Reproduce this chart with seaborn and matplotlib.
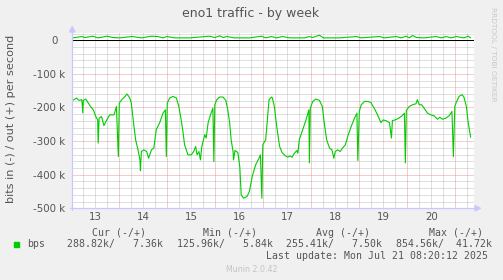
import matplotlib
matplotlib.use("Agg")
import matplotlib.pyplot as plt
from matplotlib.patches import Rectangle, Polygon
from matplotlib.lines import Line2D
import seaborn as sns
import pandas as pd
import numpy as np

# ---------------- data ----------------
in_t = [13.03, 13.11, 13.16, 13.22, 13.24, 13.25, 13.30, 13.35, 13.40, 13.46, 13.51, 13.55, 13.56, 13.58,
        13.63, 13.68, 13.74, 13.80, 13.89, 13.94, 13.98, 14.00, 14.05, 14.12, 14.16, 14.22, 14.25, 14.29,
        14.34, 14.39, 14.43, 14.44, 14.46, 14.51, 14.57, 14.61, 14.67, 14.72, 14.77, 14.84, 14.91, 14.96,
        14.98, 15.00, 15.05, 15.12, 15.19, 15.24, 15.29, 15.33, 15.36, 15.43, 15.50, 15.55, 15.59, 15.62,
        15.66, 15.69, 15.72, 15.78, 15.81, 15.85, 15.90, 15.95, 15.97, 15.99, 16.03, 16.09, 16.16, 16.22,
        16.26, 16.30, 16.33, 16.37, 16.38, 16.41, 16.47, 16.51, 16.54, 16.59, 16.66, 16.71, 16.77, 16.84,
        16.91, 16.94, 16.97, 16.99, 17.05, 17.08, 17.12, 17.17, 17.19, 17.23, 17.28, 17.34, 17.39, 17.46,
        17.51, 17.56, 17.60, 17.65, 17.70, 17.72, 17.75, 17.82, 17.89, 17.95, 17.96, 17.98, 18.03, 18.10,
        18.17, 18.23, 18.27, 18.32, 18.38, 18.43, 18.47, 18.50, 18.55, 18.60, 18.65, 18.71, 18.76, 18.83,
        18.90, 18.95, 18.97, 19.00, 19.04, 19.11, 19.17, 19.24, 19.31, 19.38, 19.45, 19.50, 19.57, 19.63,
        19.67, 19.69, 19.75, 19.82, 19.89, 19.94, 19.96, 19.98, 20.04, 20.11, 20.18, 20.21, 20.25, 20.30,
        20.35, 20.42, 20.49, 20.56, 20.63, 20.68, 20.73, 20.80, 20.87, 20.93, 20.96, 20.99, 21.02, 21.08,
        21.14, 21.18, 21.23, 21.27, 21.32]
in_v = [-179, -172, -179, -177, -216, -179, -175, -186, -197, -207, -227, -237, -306, -232,
        -227, -254, -237, -222, -222, -197, -346, -187, -177, -167, -160, -172, -187, -237,
        -296, -326, -356, -388, -331, -326, -331, -351, -326, -321, -266, -246, -217, -207,
        -346, -187, -172, -167, -172, -197, -237, -276, -311, -341, -341, -331, -316, -341,
        -331, -356, -316, -281, -291, -246, -222, -202, -361, -192, -177, -169, -169, -179,
        -207, -246, -296, -331, -356, -328, -334, -376, -460, -470, -465, -450, -405, -371,
        -351, -341, -470, -311, -296, -246, -177, -169, -172, -197, -257, -316, -334, -344,
        -348, -344, -348, -336, -328, -336, -296, -266, -237, -207, -365, -202, -182, -175,
        -179, -197, -246, -296, -321, -326, -351, -331, -326, -331, -321, -311, -286, -257,
        -232, -217, -358, -212, -192, -182, -182, -185, -202, -222, -245, -237, -240, -246,
        -291, -239, -237, -232, -225, -217, -365, -209, -197, -192, -189, -177, -192, -192,
        -202, -217, -222, -225, -235, -229, -235, -232, -225, -212, -346, -197, -185, -167,
        -162, -169, -197, -246, -289]

out_t = [13.03, 13.22, 13.28, 13.45, 13.55, 13.68, 13.74, 13.87, 14.01, 14.26, 14.32, 14.47, 14.66,
         14.80, 14.91, 14.99, 15.16, 15.47, 15.88, 15.99, 16.09, 16.17, 16.24, 16.40, 16.71, 16.96,
         17.05, 17.17, 17.28, 17.40, 17.55, 17.86, 17.96, 18.03, 18.17, 18.25, 18.59, 18.94, 19.04,
         19.42, 19.52, 19.77, 19.87, 19.98, 20.04, 20.11, 20.19, 20.35, 20.60, 20.71, 20.81, 20.91,
         21.02, 21.18, 21.27, 21.32]
out_v = [7, 11, 8, 12, 7, 10, 12, 8, 7, 11, 10, 7, 12,
         11, 7, 11, 7, 7, 12, 8, 13, 8, 11, 7, 7, 12,
         7, 11, 7, 11, 7, 7, 11, 8, 15, 7, 7, 11, 7,
         11, 7, 11, 7, 12, 7, 14, 8, 7, 11, 7, 11, 7,
         11, 7, 12, 7]

day_ticks = [13.5, 14.5, 15.5, 16.5, 17.5, 18.5, 19.5, 20.5]
day_labels = ["13", "14", "15", "16", "17", "18", "19", "20"]
y_ticks = [0, -100, -200, -300, -400, -500]
y_labels = ["0  ", "-100 k", "-200 k", "-300 k", "-400 k", "-500 k"]

title = "eno1 traffic - by week"
ylabel = "bits in (-) / out (+) per second"
legend_name = "bps"
headers = ["Cur (-/+)", "Min (-/+)", "Avg (-/+)", "Max (-/+)"]
values = ["288.82k/   7.36k", "125.96k/   5.84k", "255.41k/   7.50k", "854.56k/  41.72k"]
last_update = "Last update: Mon Jul 21 08:20:12 2025"
footer = "Munin 2.0.42"
side = "RRDTOOL / TOBI OETIKER"

# ---------------- style ----------------
W, H = 503, 280
sns.set_theme(style="white")
plt.rcParams["font.family"] = ["DejaVu Sans"]
TXT = "#555555"
GREEN = "#00CC00"
AXC = "#C8C8FF"

fig = plt.figure(figsize=(W / 100, H / 100), dpi=100, facecolor="#F0F0F0")

def fx(x):
    return x / W

def fy(y):
    return 1 - y / H

L, R, T, B = 72.3, 473.5, 33.0, 208.3
ax = fig.add_axes([fx(L), fy(B), fx(R) - fx(L), fy(T) - fy(B)])
ax.set_facecolor("white")

xmin = 13.021
xmax = xmin + (R - L) / 48.0
ymin, ymax = -500, 21.5
ax.set_xlim(xmin, xmax)
ax.set_ylim(ymin, ymax)

dot = (0, (1, 1))
# minor grid
for k in range(int(np.ceil((xmin) * 4)), int(np.floor(xmax * 4)) + 1):
    t = k / 4
    if abs(t - round(t)) > 1e-6:
        ax.axvline(t, color="#C0C0C0", lw=0.72, ls=dot, zorder=0.5)
for v in range(-480, 21, 20):
    if v % 100 != 0:
        ax.axhline(v, color="#C0C0C0", lw=0.72, ls=dot, zorder=0.5)
# major grid
for d in range(14, 22):
    if d < xmax:
        ax.axvline(d, color="#E89A9A", lw=0.72, ls=dot, zorder=0.6)
for v in [-100, -200, -300, -400]:
    ax.axhline(v, color="#E89A9A", lw=0.72, ls=dot, zorder=0.6)

ax.axhline(0, color="black", lw=0.75, zorder=1.5)

df_in = pd.DataFrame({"t": in_t, "v": in_v})
df_out = pd.DataFrame({"t": out_t, "v": out_v})
sns.lineplot(data=df_in, x="t", y="v", ax=ax, color=GREEN, linewidth=0.8, estimator=None, zorder=2)
sns.lineplot(data=df_out, x="t", y="v", ax=ax, color=GREEN, linewidth=0.8, estimator=None, zorder=2)

for s in ax.spines.values():
    s.set_visible(False)
ax.set_xlabel("")
ax.set_ylabel("")
ax.set_xticks(day_ticks)
ax.set_xticklabels(day_labels)
ax.set_yticks(y_ticks)
ax.set_yticklabels(y_labels)
ax.tick_params(axis="both", length=0, labelsize=7.4, labelcolor=TXT)
ax.tick_params(axis="y", pad=5)
ax.tick_params(axis="x", pad=3)
ax.grid(False)

# axis lines with arrows
fig.add_artist(Line2D([fx(L), fx(L)], [fy(B + 2), fy(30)], color=AXC, lw=0.9, transform=fig.transFigure))
fig.add_artist(Line2D([fx(L - 2), fx(476)], [fy(B), fy(B)], color=AXC, lw=0.9, transform=fig.transFigure))
fig.add_artist(Polygon([[fx(L - 2.6), fy(32)], [fx(L + 2.6), fy(32)], [fx(L), fy(26.5)]],
                       closed=True, color=AXC, transform=fig.transFigure))
fig.add_artist(Polygon([[fx(475), fy(B - 2.6)], [fx(475), fy(B + 2.6)], [fx(480.5), fy(B)]],
                       closed=True, color=AXC, transform=fig.transFigure))

# texts
fig.text(fx(251), fy(13.5), title, ha="center", va="center", fontsize=9, color=TXT)
fig.text(fx(11), fy(119), ylabel, ha="center", va="center", rotation=90, fontsize=8.1, color=TXT)
fig.text(fx(493), fy(54), side, ha="center", va="center", rotation=270, fontsize=5.3, color="#C8C8C8")

mono = "DejaVu Sans Mono"
hx = [91.7, 203.3, 316.0, 429.0]
vx = [66.7, 177.3, 286.0, 396.0]
for x, h in zip(hx, headers):
    fig.text(fx(x), fy(232.5), h, ha="left", va="center", fontsize=7.15, color=TXT, family=mono)
for x, v in zip(vx, values):
    fig.text(fx(x), fy(244.3), v, ha="left", va="center", fontsize=7.15, color=TXT, family=mono)
fig.text(fx(27), fy(244.3), legend_name, ha="left", va="center", fontsize=7.15, color=TXT, family=mono)
fig.text(fx(488.3), fy(256), last_update, ha="right", va="center", fontsize=7.15, color=TXT, family=mono)
fig.text(fx(251.5), fy(269.3), footer, ha="center", va="center", fontsize=5.7, color="#C4C4C4")

fig.patches.append(Rectangle((fx(14), fy(246.8)), fx(5.3), 5.1 / H, color=GREEN,
                             transform=fig.transFigure, figure=fig))

fig.savefig("out.png", dpi=100, facecolor=fig.get_facecolor())
